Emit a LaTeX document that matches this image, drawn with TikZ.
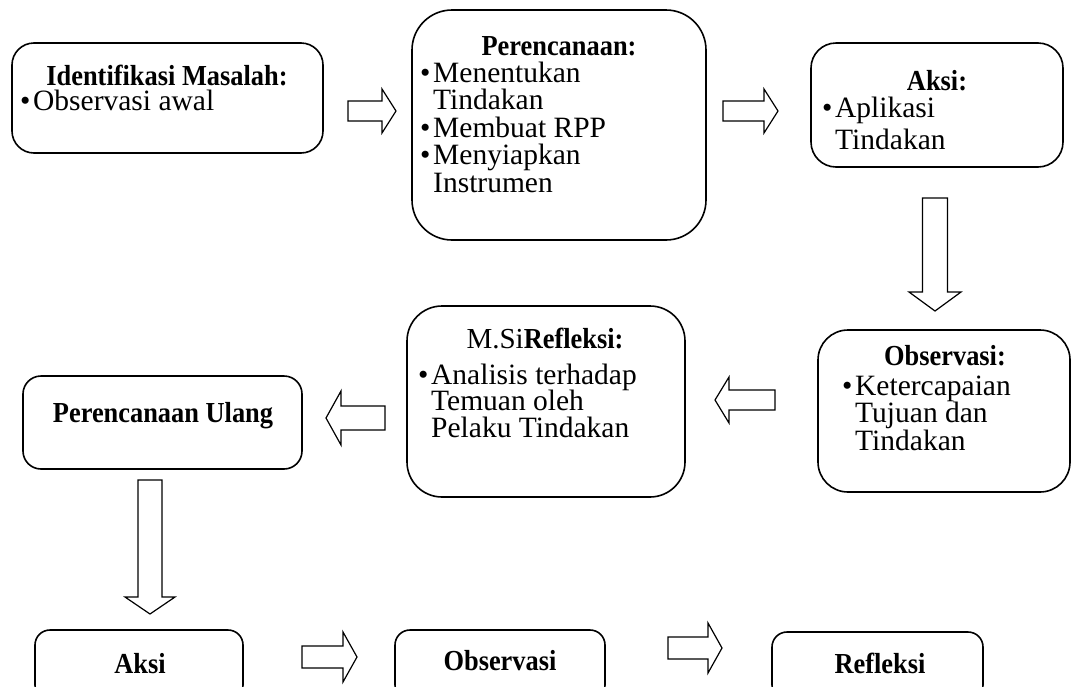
\documentclass[tikz,border=0pt]{standalone}
\usepackage{fontspec}
\setmainfont{Liberation Serif}[BoldFeatures={FakeStretch=0.91}]
\newcommand\dfont{\fontsize{29}{28}\selectfont}
\newcommand\rfont{\fontsize{29.5}{27.5}\selectfont\lineskiplimit=-100pt}
\newcommand\bul{\makebox[13pt][l]{\textbullet}}
\newcommand\ind{\hspace*{13pt}}
\newcommand\barrow[6]{%
  \begin{scope}[shift={(#1)},rotate=#3]
    \draw[arrowline] (0,-#4) -- ({#2-#6},-#4) -- ({#2-#6},-#5) -- (#2,0) -- ({#2-#6},#5) -- ({#2-#6},#4) -- (0,#4) -- cycle;
  \end{scope}}
\tikzset{
  box/.style={draw=black, line width=1.6pt, fill=white, inner sep=0pt},
  arrowline/.style={draw=black, line width=1.2pt, fill=white, line join=miter},
  ttl/.style={anchor=base, inner sep=0pt, font=\dfont\bfseries},
  lst/.style={anchor=base west, inner sep=0pt, font=\rfont, align=left},
}
\begin{document}
\begin{tikzpicture}[x=1pt,y=-1pt]
\useasboundingbox (0,0) rectangle (1073,686);
\clip (0,0) rectangle (1073,686);
% boxes
\node[box, minimum width=311, minimum height=110, rounded corners=22pt] (b1) at (167.5,98) {};
\node[box, minimum width=294, minimum height=230, rounded corners=40pt] (b2) at (559,125) {};
\node[box, minimum width=252, minimum height=124, rounded corners=25pt] (b3) at (937,105) {};
\node[box, minimum width=252, minimum height=162, rounded corners=30pt] (b4) at (944,411) {};
\node[box, minimum width=278, minimum height=191, rounded corners=35pt] (b5) at (546,401.5) {};
\node[box, minimum width=279, minimum height=93, rounded corners=18pt] (b6) at (162.5,422.5) {};
\node[box, minimum width=208, minimum height=70, rounded corners=15pt] (b7) at (139,665) {};
\node[box, minimum width=210, minimum height=70, rounded corners=15pt] (b8) at (500,665) {};
\node[box, minimum width=211, minimum height=68, rounded corners=15pt] (b9) at (877.5,666) {};
% texts
\node[ttl] (b1h) at (167,85) {Identifikasi Masalah:};
\node[lst] (b1l) at (20,110) {\vtop{\hbox{\bul Observasi awal}}};
\node[ttl] (b2h) at (559,55) {Perencanaan:};
\node[lst] (b2l) at (420,82) {\vtop{\hbox{\bul Menentukan}\hbox{\ind Tindakan}\hbox{\bul Membuat RPP}\hbox{\bul Menyiapkan}\hbox{\ind Instrumen}}};
\node[ttl] (b3h) at (937,90) {Aksi:};
\node[lst] (b3l) at (822,117) {\vtop{\hbox{\bul Aplikasi}\vskip5pt\hbox{\ind Tindakan}}};
\node[ttl] (b4h) at (945,365) {Observasi:};
\node[lst] (b4l) at (842,395) {\vtop{\hbox{\bul Ketercapaian}\hbox{\ind Tujuan dan}\hbox{\ind Tindakan}}};
\node[ttl] (b5h) at (545,348) {\mdseries M.Si\bfseries Refleksi:};
\node[lst] (b5l) at (418,384) {\vtop{\baselineskip=26.5pt\hbox{\bul Analisis terhadap}\hbox{\ind Temuan oleh}\hbox{\ind Pelaku Tindakan}}};
\node[ttl] (b6h) at (163,422) {Perencanaan Ulang};
\node[ttl] (b7h) at (140,673) {Aksi};
\node[ttl] (b8h) at (500,670) {Observasi};
\node[ttl] (b9h) at (880,673) {Refleksi};
% block arrows
\coordinate (a1) at (348,111);
\coordinate (a2) at (723,111);
\coordinate (a3) at (935,198);
\coordinate (a4) at (775,400);
\coordinate (a5) at (385,418);
\coordinate (a6) at (150,480);
\coordinate (a7) at (302,657);
\coordinate (a8) at (668,648);
\barrow{a1}{48}{0}{10}{22}{14}
\barrow{a2}{55}{0}{10}{22}{14}
\barrow{a3}{113}{-90}{12.5}{26}{19}
\barrow{a4}{60}{180}{10}{23}{14}
\barrow{a5}{59}{180}{12}{27}{15}
\barrow{a6}{134}{-90}{12}{25}{17}
\barrow{a7}{55}{0}{11}{25}{14}
\barrow{a8}{54}{0}{11}{25}{14}
\end{tikzpicture}
\end{document}
